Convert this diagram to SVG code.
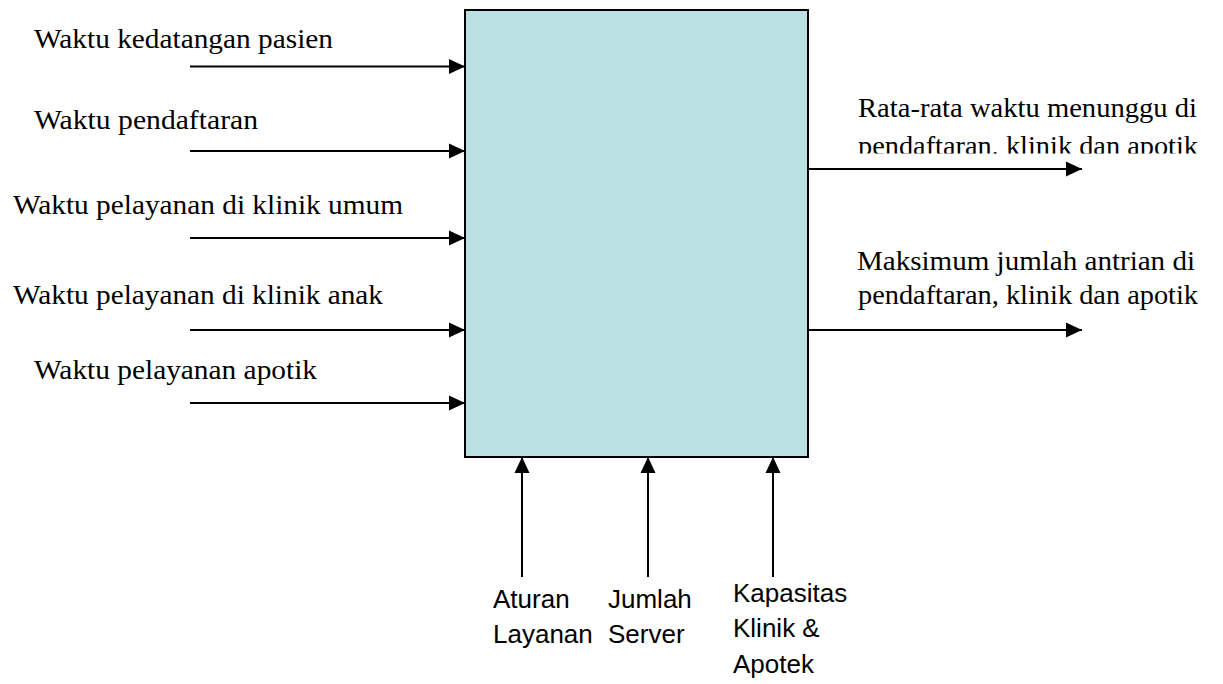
<svg xmlns="http://www.w3.org/2000/svg" width="1223" height="684" viewBox="0 0 1223 684">
<style>
.lbl{font-family:"Liberation Serif","Times New Roman",serif;font-size:27px;fill:#000}
.ctl{font-family:"Liberation Sans",Arial,sans-serif;font-size:26px;fill:#000}
.box{fill:#BBE0E3;stroke:#000;stroke-width:2}
.con{stroke:#000;stroke-width:2;fill:none;marker-end:url(#ah)}
</style>
<defs>
<marker id="ah" markerUnits="userSpaceOnUse" markerWidth="16" markerHeight="16" refX="16" refY="8" orient="auto">
<path d="M0,0.5 L16,8 L0,15.5 Z" fill="#000"/>
</marker>
<clipPath id="clipOut1"><rect x="840" y="125" width="383" height="28.5"/></clipPath>
</defs>
<rect width="1223" height="684" fill="#fff"/>
<g id="process">
<rect class="box" x="465" y="10" width="343" height="447"/>
</g>
<g id="connectors">
<line class="con" x1="190" y1="66.5" x2="465" y2="66.5"/>
<line class="con" x1="190" y1="151" x2="465" y2="151"/>
<line class="con" x1="190" y1="238" x2="465" y2="238"/>
<line class="con" x1="190" y1="330" x2="465" y2="330"/>
<line class="con" x1="190" y1="403" x2="465" y2="403"/>
<line class="con" x1="808" y1="169" x2="1082" y2="169"/>
<line class="con" x1="808" y1="330" x2="1082" y2="330"/>
<line class="con" x1="522" y1="577" x2="522" y2="457"/>
<line class="con" x1="648" y1="577" x2="648" y2="457"/>
<line class="con" x1="773" y1="577" x2="773" y2="457"/>
</g>
<g id="in1"><text class="lbl" x="34" y="48" textLength="299" lengthAdjust="spacingAndGlyphs">Waktu kedatangan pasien</text></g>
<g id="in2"><text class="lbl" x="34" y="129" textLength="224" lengthAdjust="spacingAndGlyphs">Waktu pendaftaran</text></g>
<g id="in3"><text class="lbl" x="13" y="214" textLength="390" lengthAdjust="spacingAndGlyphs">Waktu pelayanan di klinik umum</text></g>
<g id="in4"><text class="lbl" x="13" y="304" textLength="370" lengthAdjust="spacingAndGlyphs">Waktu pelayanan di klinik anak</text></g>
<g id="in5"><text class="lbl" x="34" y="379" textLength="283" lengthAdjust="spacingAndGlyphs">Waktu pelayanan apotik</text></g>
<g id="out1">
<text class="lbl" x="858" y="117" textLength="339" lengthAdjust="spacingAndGlyphs">Rata-rata waktu menunggu di</text>
<text class="lbl" x="858" y="155" textLength="340" lengthAdjust="spacingAndGlyphs" clip-path="url(#clipOut1)">pendaftaran, klinik dan apotik</text>
</g>
<g id="out2">
<text class="lbl" x="857" y="270" textLength="338" lengthAdjust="spacingAndGlyphs">Maksimum jumlah antrian di</text>
<text class="lbl" x="858" y="304" textLength="340" lengthAdjust="spacingAndGlyphs">pendaftaran, klinik dan apotik</text>
</g>
<g id="ctl1"><text class="ctl" x="493" y="608">Aturan</text><text class="ctl" x="493" y="643">Layanan</text></g>
<g id="ctl2"><text class="ctl" x="608" y="608">Jumlah</text><text class="ctl" x="608" y="643">Server</text></g>
<g id="ctl3"><text class="ctl" x="733" y="602">Kapasitas</text><text class="ctl" x="733" y="637">Klinik &amp;</text><text class="ctl" x="733" y="673">Apotek</text></g>
</svg>
